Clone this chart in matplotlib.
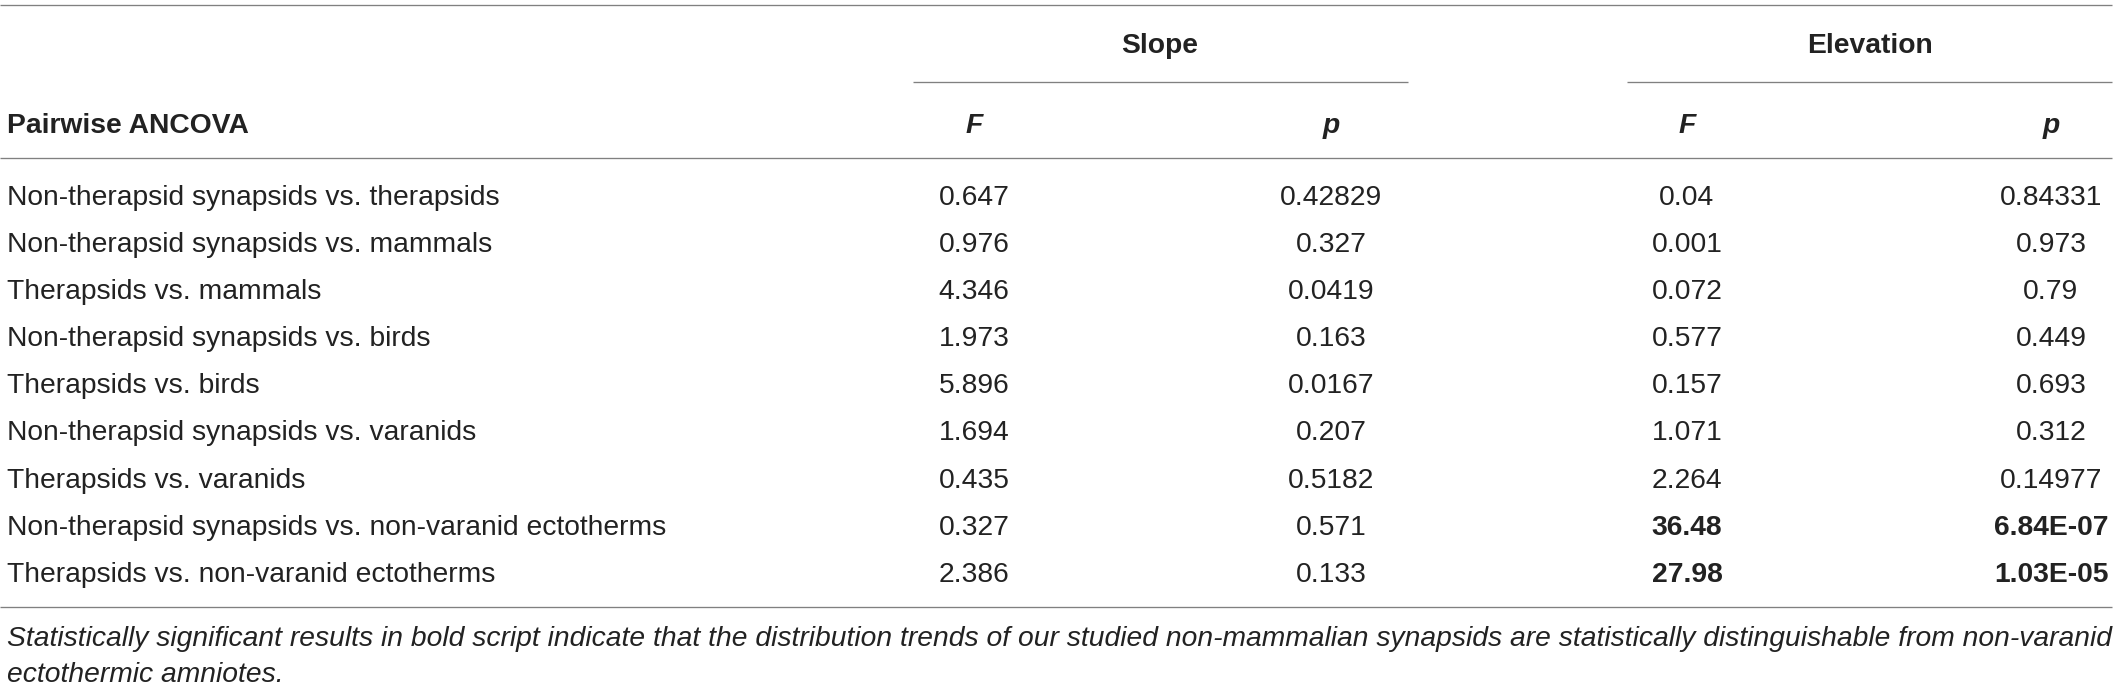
import matplotlib
matplotlib.use("Agg")
import matplotlib.pyplot as plt

# ---- data ----
comparisons = [
    "Non-therapsid synapsids vs. therapsids",
    "Non-therapsid synapsids vs. mammals",
    "Therapsids vs. mammals",
    "Non-therapsid synapsids vs. birds",
    "Therapsids vs. birds",
    "Non-therapsid synapsids vs. varanids",
    "Therapsids vs. varanids",
    "Non-therapsid synapsids vs. non-varanid ectotherms",
    "Therapsids vs. non-varanid ectotherms",
]
slope_F = ["0.647", "0.976", "4.346", "1.973", "5.896", "1.694", "0.435", "0.327", "2.386"]
slope_p = ["0.42829", "0.327", "0.0419", "0.163", "0.0167", "0.207", "0.5182", "0.571", "0.133"]
elev_F = ["0.04", "0.001", "0.072", "0.577", "0.157", "1.071", "2.264", "36.48", "27.98"]
elev_p = ["0.84331", "0.973", "0.79", "0.449", "0.693", "0.312", "0.14977", "6.84E-07", "1.03E-05"]
significant = [False, False, False, False, False, False, False, True, True]
group_headers = ["Slope", "Elevation"]
col_headers = ["Pairwise ANCOVA", "F", "p", "F", "p"]
footnote = ["Statistically significant results in bold script indicate that the distribution trends of our studied non-mammalian synapsids are statistically distinguishable from non-varanid",
            "ectothermic amniotes."]

# ---- layout ----
W, H = 2118, 689
fig = plt.figure(figsize=(W / 100, H / 100), dpi=100)
ax = fig.add_axes([0, 0, 1, 1])
ax.set_xlim(0, W)
ax.set_ylim(H, 0)
ax.axis("off")

FONT = "Liberation Sans"
FS = 20.3
TXT = "#222222"
LINE = "#808080"
LW = 0.95

col_x = [974, 1331, 1687, 2051]
label_x = 7

def hline(y, x0, x1):
    ax.plot([x0, x1], [y, y], color=LINE, lw=LW, solid_capstyle="butt")

# rules
hline(5, 0, 2112)
hline(82, 913, 1408)
hline(82, 1627, 2112)
hline(158, 0, 2112)
hline(607, 0, 2112)

# group headers
ax.text(1160, 53, group_headers[0], fontsize=FS, family=FONT, weight="bold",
        ha="center", va="baseline", color=TXT)
ax.text(1870, 53, group_headers[1], fontsize=FS, family=FONT, weight="bold",
        ha="center", va="baseline", color=TXT)

# column headers
ax.text(label_x, 133, col_headers[0], fontsize=FS, family=FONT, weight="bold",
        ha="left", va="baseline", color=TXT)
for x, h in zip(col_x, col_headers[1:]):
    ax.text(x, 133, h, fontsize=FS, family=FONT, weight="bold", style="italic",
            ha="center", va="baseline", color=TXT)

# body rows
y0, dy = 205, 47.1
for i, name in enumerate(comparisons):
    y = y0 + i * dy
    ax.text(label_x, y, name, fontsize=FS, family=FONT, ha="left", va="baseline", color=TXT)
    ax.text(col_x[0], y, slope_F[i], fontsize=FS, family=FONT, ha="center", va="baseline", color=TXT)
    ax.text(col_x[1], y, slope_p[i], fontsize=FS, family=FONT, ha="center", va="baseline", color=TXT)
    w = "bold" if significant[i] else "normal"
    ax.text(col_x[2], y, elev_F[i], fontsize=FS, family=FONT, weight=w, ha="center", va="baseline", color=TXT)
    ax.text(col_x[3], y, elev_p[i], fontsize=FS, family=FONT, weight=w, ha="center", va="baseline", color=TXT)

# footnote
ax.text(label_x, 646, footnote[0], fontsize=FS, family=FONT, style="italic",
        ha="left", va="baseline", color=TXT)
ax.text(label_x, 682, footnote[1], fontsize=FS, family=FONT, style="italic",
        ha="left", va="baseline", color=TXT)

fig.savefig("out.png", dpi=100)
